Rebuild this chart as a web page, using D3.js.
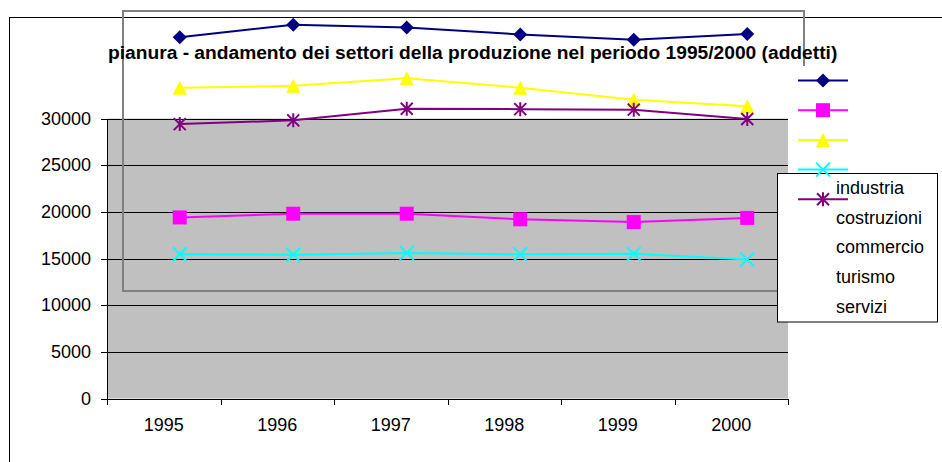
<!DOCTYPE html>
<html>
<head>
<meta charset="utf-8">
<script src="https://cdn.jsdelivr.net/npm/d3@7"></script>
<style>
  html, body { margin: 0; padding: 0; background: #fff; }
  svg { display: block; font-family: Arial, "Liberation Sans", sans-serif; }
</style>
</head>
<body>
<script>
// ---------- data ----------
const years = ["1995", "1996", "1997", "1998", "1999", "2000"];
const industria   = [38700, 40050, 39750, 39000, 38450, 39050];
const costruzioni = [19400, 19800, 19800, 19200, 18900, 19350];
const commercio   = [33300, 33500, 34300, 33300, 32000, 31300];
const turismo     = [15450, 15400, 15600, 15450, 15500, 14900];
const servizi     = [29400, 29800, 31050, 31000, 30950, 29950];
const seriesNames = ["industria", "costruzioni", "commercio", "turismo", "servizi"];
const yTickValues = [0, 5000, 10000, 15000, 20000, 25000, 30000];
const titleText = "pianura - andamento dei settori della produzione nel periodo 1995/2000 (addetti)";

const series = [
  { name: seriesNames[0], values: industria,   color: "#000080", marker: "diamond" },
  { name: seriesNames[1], values: costruzioni, color: "#ff00ff", marker: "square" },
  { name: seriesNames[2], values: commercio,   color: "#ffff00", marker: "triangle" },
  { name: seriesNames[3], values: turismo,     color: "#00ffff", marker: "x" },
  { name: seriesNames[4], values: servizi,     color: "#800080", marker: "star" }
];

// ---------- layout ----------
const W = 942, H = 462;
const plot = { left: 107, right: 788, top: 118.5, bottom: 398.5 };
const shift = { dx: 16, dy: -107.5 };   // offset layer (series, frame, legend keys)
const legendBox = { x: 777.5, y: 173.5, w: 160, h: 148.5 };
const legendRowStart = 188, legendRowStep = 29.7;

const svg = d3.select("body").append("svg").attr("width", W).attr("height", H);

// chart area border
svg.append("rect")
  .attr("x", 9.5).attr("y", 17.5).attr("width", 1000).attr("height", 1000)
  .attr("fill", "#fff").attr("stroke", "#000").attr("stroke-width", 1);

// scales
const x = d3.scaleBand().domain(years).range([plot.left, plot.right]).paddingInner(0).paddingOuter(0);
const xs = d3.scaleBand().domain(years).range([plot.left + shift.dx, plot.right + shift.dx]);
const y = d3.scaleLinear().domain([0, 30000]).range([plot.bottom, plot.top]);

// plot area
svg.append("rect")
  .attr("x", plot.left).attr("y", plot.top)
  .attr("width", plot.right - plot.left).attr("height", plot.bottom - plot.top)
  .attr("fill", "#c0c0c0");

// gridlines
svg.append("g").selectAll("line").data(yTickValues.filter(d => d > 0)).join("line")
  .attr("x1", plot.left).attr("x2", plot.right)
  .attr("y1", d => Math.round(y(d)) + 0.5).attr("y2", d => Math.round(y(d)) + 0.5)
  .attr("stroke", "#000").attr("stroke-width", 1).attr("shape-rendering", "crispEdges");

// y axis
const yAxis = svg.append("g").attr("transform", `translate(${plot.left},0)`)
  .call(d3.axisLeft(y).tickValues(yTickValues).tickSize(6).tickPadding(10).tickSizeOuter(0).tickFormat(d3.format("d")));
yAxis.select(".domain").attr("stroke", "#000").attr("shape-rendering", "crispEdges");
yAxis.selectAll(".tick line").attr("stroke", "#000").attr("shape-rendering", "crispEdges");
yAxis.selectAll(".tick text").attr("font-size", 18).attr("fill", "#000")
  .attr("font-family", "Arial, 'Liberation Sans', sans-serif");

// x axis
const xAxis = svg.append("g").attr("transform", `translate(0,${plot.bottom})`)
  .call(d3.axisBottom(x).tickSize(0).tickPadding(20).tickSizeOuter(0));
xAxis.select(".domain").attr("stroke", "#000").attr("shape-rendering", "crispEdges");
xAxis.selectAll(".tick text").attr("font-size", 18).attr("fill", "#000")
  .attr("font-family", "Arial, 'Liberation Sans', sans-serif");
// band boundary ticks
const bounds = years.map(d => x(d)).concat([x(years[years.length - 1]) + x.bandwidth()]);
svg.append("g").selectAll("line").data(bounds).join("line")
  .attr("x1", d => Math.round(d) + 0.5).attr("x2", d => Math.round(d) + 0.5)
  .attr("y1", plot.bottom).attr("y2", plot.bottom + 6)
  .attr("stroke", "#000").attr("shape-rendering", "crispEdges");

// offset frame (gray)
svg.append("rect")
  .attr("x", plot.left + shift.dx).attr("y", plot.top + shift.dy)
  .attr("width", plot.right - plot.left).attr("height", plot.bottom - plot.top)
  .attr("fill", "none").attr("stroke", "#808080").attr("stroke-width", 2);

// offset legend background (white, hides part of frame)
svg.append("rect")
  .attr("x", legendBox.x + shift.dx).attr("y", legendBox.y + shift.dy)
  .attr("width", legendBox.w).attr("height", legendBox.h)
  .attr("fill", "#fff");

// legend box with labels
svg.append("rect")
  .attr("x", legendBox.x).attr("y", legendBox.y).attr("width", legendBox.w).attr("height", legendBox.h)
  .attr("fill", "#fff").attr("stroke", "#000").attr("stroke-width", 1);
svg.append("g").selectAll("text").data(series).join("text")
  .attr("x", 836).attr("y", (d, i) => legendRowStart + i * legendRowStep)
  .attr("dominant-baseline", "central")
  .attr("font-size", 18).attr("fill", "#000")
  .text(d => d.name);

// marker drawing
function drawMarker(g, type, color) {
  const s = 7;
  if (type === "diamond") {
    g.append("path").attr("d", `M0,${-s} L${s},0 L0,${s} L${-s},0 Z`).attr("fill", color);
  } else if (type === "square") {
    g.append("rect").attr("x", -s).attr("y", -s).attr("width", 2 * s).attr("height", 2 * s).attr("fill", color);
  } else if (type === "triangle") {
    g.append("path").attr("d", `M0,${-s} L${s},${s} L${-s},${s} Z`).attr("fill", color);
  } else if (type === "x") {
    g.append("path").attr("d", `M${-s},${-s} L${s},${s} M${-s},${s} L${s},${-s}`)
      .attr("stroke", color).attr("stroke-width", 2).attr("fill", "none");
  } else if (type === "star") {
    g.append("path").attr("d", `M${-6},${-6} L6,6 M-6,6 L6,-6 M0,${-s} L0,${s}`)
      .attr("stroke", color).attr("stroke-width", 2).attr("fill", "none");
  }
}

// series (drawn in offset frame)
const px = d => xs(d) + xs.bandwidth() / 2;
const line = d3.line().x((d, i) => px(years[i])).y(d => y(d) + 0);
const seriesG = svg.append("g");
series.forEach(s => {
  seriesG.append("path")
    .attr("d", line(s.values))
    .attr("fill", "none").attr("stroke", s.color).attr("stroke-width", 2);
});
series.forEach(s => {
  s.values.forEach((v, i) => {
    const g = seriesG.append("g").attr("transform", `translate(${px(years[i])},${y(v)})`);
    drawMarker(g, s.marker, s.color);
  });
});

// legend keys (offset)
series.forEach((s, i) => {
  const cy = legendRowStart + i * legendRowStep + shift.dy;
  const g = svg.append("g").attr("transform", `translate(${782 + shift.dx},${cy})`);
  g.append("line").attr("x1", 0).attr("x2", 50).attr("y1", 0).attr("y2", 0)
    .attr("stroke", s.color).attr("stroke-width", 2);
  const m = g.append("g").attr("transform", "translate(25,0)");
  drawMarker(m, s.marker, s.color);
});

// title
const title = svg.append("text")
  .attr("x", 108).attr("y", 58.5)
  .attr("font-weight", "bold").attr("font-size", 18).attr("fill", "#000")
  .text(titleText);
const tl = title.node().getComputedTextLength();
title.attr("font-size", 18 * 730 / tl);
</script>
</body>
</html>
